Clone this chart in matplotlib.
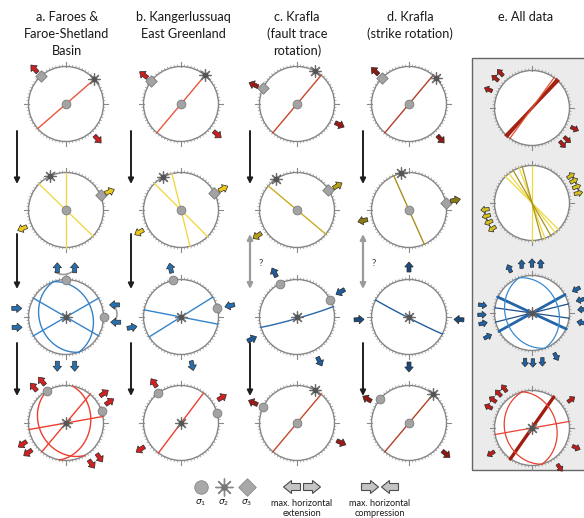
import numpy as np
import matplotlib
matplotlib.use("Agg")
import matplotlib.pyplot as plt
from matplotlib.patches import Circle, Polygon, Rectangle

plt.rcParams['font.family'] = ['Lato', 'DejaVu Sans']
plt.rcParams['mathtext.fontset'] = 'dejavusans'

# ---------------------------------------------------------------- data
titles = [["a. Faroes &", "Faroe-Shetland", "Basin"],
          ["b. Kangerlussuaq", "East Greenland"],
          ["c. Krafla", "(fault trace", "rotation)"],
          ["d. Krafla", "(strike rotation)"],
          ["e. All data"]]

# fault planes per stage: (strike, dip), right-hand rule
planes_a = [[(49, 90)],
            [(0, 90), (314, 90)],
            [(60, 90), (120, 90), (160, 30), (340, 30)],
            [(40, 90), (80, 90), (150, 30), (10, 35)]]
planes_b = [[(40, 90)], [(315, 90), (346, 90)], [(101, 90), (58, 90)], [(37, 90)]]
planes_c = [[(40, 90)], [(310, 90)], [(74, 87)], [(40, 90)]]
planes_d = [[(40, 90)], [(336, 90)], [(117, 88)], [(40, 90)]]
planes_e = [[(41, 90), (44, 90), (36, 90)],
            [(0, 90), (315, 90), (322, 90), (340, 90), (330, 90), (345, 90)],
            [(61, 90), (115, 90), (76, 90), (98, 90), (160, 30), (340, 30)],
            [(35, 90), (80, 90), (165, 28), (345, 35)]]
# 0 = thin plane, 1 = thick / summary plane, 2 = dark thin plane
planes_e_kind = [[1, 1, 0], [0, 0, 0, 0, 2, 2], [1, 1, 2, 2, 0, 0], [1, 0, 0, 0]]

# principal stress axes: (trend, plunge, sigma index)
stress_a = [[(0, 90, 1), (49, 0, 2), (318, 0, 3)],
            [(0, 90, 1), (334, 0, 2), (67, 0, 3)],
            [(0, 90, 2), (90, 0, 1), (0, 0, 1)],
            [(0, 90, 2), (330, 0, 1), (72, 0, 1)]]
stress_b = [[(0, 90, 1), (40, 0, 2), (307, 0, 3)],
            [(0, 90, 1), (331, 0, 2), (63, 0, 3)],
            [(0, 90, 2), (348, 0, 1), (76, 0, 1)],
            [(0, 90, 2), (322, 0, 1), (74, 0, 1)]]
stress_c = [[(0, 90, 1), (29, 0, 2), (296, 0, 3)],
            [(0, 90, 1), (326, 0, 2), (57, 0, 3)],
            [(0, 90, 2), (333, 0, 1), (63, 0, 1)],
            [(0, 90, 1), (29, 0, 2), (296, 0, 1)]]
stress_d = [[(0, 90, 1), (46, 0, 2), (314, 0, 3)],
            [(0, 90, 1), (347, 0, 2), (80, 0, 3)],
            [(0, 90, 2)],
            [(0, 90, 1), (40, 0, 2), (310, 0, 1)]]
stress_e = [[], [], [(0, 90, 2)], [(0, 90, 2)]]

# horizontal strain arrows: (azimuth of position, azimuth the arrow points)
arrows_a = [[(318, 318), (138, 138)],
            [(67, 67), (247, 247)],
            [(350, 0), (10, 0), (190, 180), (170, 180),
             (76, 270), (96, 270), (280, 90), (258, 90)],
            [(318, 320), (330, 320), (52, 55), (64, 55),
             (232, 235), (244, 235), (136, 145), (148, 145)]]
arrows_b = [[(308, 308), (130, 130)],
            [(63, 63), (242, 242)],
            [(348, 348), (77, 257), (258, 78), (167, 167)],
            [(326, 326), (58, 58), (237, 237)]]
arrows_c = [[(294, 294), (116, 116)],
            [(59, 59), (237, 237)],
            [(333, 333), (60, 240), (153, 153), (244, 64)],
            [(295, 295), (114, 114)]]
arrows_d = [[(314, 314), (138, 138)],
            [(78, 78), (257, 257)],
            [(0, 0), (93, 273), (180, 180), (267, 87)],
            [(300, 300), (130, 130)]]
arrows_e = [[(293, 293), (309, 309), (318, 318), (140, 140), (132, 132), (116, 116)],
            [(55, 55), (62, 62), (70, 70), (78, 78), (262, 262), (254, 254), (246, 246), (237, 237)],
            [(333, 335), (348, 0), (0, 0), (10, 0),
             (62, 242), (75, 255), (86, 266), (101, 281),
             (279, 99), (268, 88), (258, 78), (242, 62),
             (188, 180), (179, 180), (168, 180), (151, 151)],
            [(306, 306), (316, 316), (325, 325), (296, 296), (54, 54), (238, 238), (114, 114), (145, 145)]]

legend_sigma = ["$\\sigma_1$", "$\\sigma_2$", "$\\sigma_3$"]
legend_ext = ["max. horizontal", "extension"]
legend_comp = ["max. horizontal", "compression"]

# ---------------------------------------------------------------- layout
W, H = 584, 518
col_x = [66, 181, 297, 409, 532]
row_y = [[104, 210, 317, 423]] * 4 + [[108, 203, 313, 428]]
title_x = [67, 183, 297, 410, 526]
R = 37.5
arrow_dist = [R + 10, R + 10, R + 12.5, R + 11]

line_cols = [['#e9553b', '#f1d84a', '#3583c9', '#ec3f2f'],
             ['#e9553b', '#f1d84a', '#3583c9', '#ec3f2f'],
             ['#c4472a', '#c8ad1e', '#2b67a8', '#c4472a'],
             ['#b43e24', '#a8901e', '#245d99', '#b43e24']]
arrow_cols = [['#cc1f1f', '#ecc81a', '#2670b0', '#d42020'],
              ['#cc1f1f', '#ecc81a', '#2670b0', '#d42020'],
              ['#9a1a14', '#b8a014', '#1e5c9c', '#9a1a14'],
              ['#8a1a12', '#8c7a10', '#1b4a7c', '#8a1a12']]
e_styles = [[('#e25234', 0.9), ('#a32212', 1.8), ('#7a1a10', 0.9)],
            [('#f0d840', 0.9), ('#c8ad1e', 1.6), ('#a89420', 0.9)],
            [('#3a8ad0', 0.9), ('#2465a8', 2.0), ('#1e4f8a', 0.9)],
            [('#e84030', 0.9), ('#a01e10', 2.4), ('#7a1a10', 0.9)]]
e_arrow_cols = ['#b01c14', '#d8c020', '#1e62a8', '#c01c18']

fig = plt.figure(figsize=(W / 100, H / 100), dpi=100)
ax = fig.add_axes([0, 0, 1, 1])
ax.set_xlim(0, W)
ax.set_ylim(H, 0)
ax.set_aspect('equal')
ax.axis('off')


def project(trend, plunge):
    """Lower-hemisphere equal-area projection, unit radius."""
    r = np.sqrt(2) * np.sin(np.radians(90 - plunge) / 2)
    t = np.radians(trend)
    return r * np.sin(t), -r * np.cos(t)


def great_circle(strike, dip, n=181):
    s, d = np.radians(strike), np.radians(dip)
    sv = np.array([np.cos(s), np.sin(s), 0.0])
    dv = np.array([np.cos(s + np.pi / 2) * np.cos(d),
                   np.sin(s + np.pi / 2) * np.cos(d), np.sin(d)])
    t = np.linspace(0, np.pi, n)
    v = np.outer(np.cos(t), sv) + np.outer(np.sin(t), dv)
    plunge = np.degrees(np.arcsin(np.clip(v[:, 2], -1, 1)))
    trend = np.degrees(np.arctan2(v[:, 1], v[:, 0]))
    return project(trend, plunge)


def block_arrow(x, y, az, color, L=10, w=4.0, hw=8.5, hl=5.0, ec='#2a2a2a', lw=0.5, z=6):
    a = np.radians(az)
    ux, uy = np.sin(a), -np.cos(a)
    px, py = -uy, ux
    loc = [(-L / 2, w / 2), (L / 2 - hl, w / 2), (L / 2 - hl, hw / 2), (L / 2, 0),
           (L / 2 - hl, -hw / 2), (L / 2 - hl, -w / 2), (-L / 2, -w / 2)]
    pts = [(x + al * ux + pe * px, y + al * uy + pe * py) for al, pe in loc]
    ax.add_patch(Polygon(pts, closed=True, facecolor=color, edgecolor=ec, lw=lw, zorder=z))


def stereonet(cx, cy, face=None):
    if face:
        ax.add_patch(Circle((cx, cy), R, facecolor=face, edgecolor='none', zorder=1))
    ax.add_patch(Circle((cx, cy), R, fill=False, edgecolor='#858585', lw=1.0, zorder=3))
    for a in range(0, 360, 5):
        t = np.radians(a)
        ln = 4.5 if a % 90 == 0 else 1.8
        ax.plot([cx + R * np.sin(t), cx + (R + ln) * np.sin(t)],
                [cy - R * np.cos(t), cy - (R + ln) * np.cos(t)],
                color='#8a8a8a', lw=0.8 if a % 90 == 0 else 0.45, zorder=3)


def stress_marker(cx, cy, trend, plunge, k):
    ux, uy = project(trend, plunge)
    x, y = cx + R * ux, cy + R * uy
    if k == 1:
        ax.scatter([x], [y], s=40, marker='o', facecolor='#a3a3a3', edgecolor='#7d7d7d', lw=0.6, zorder=5)
    elif k == 2:
        ax.scatter([x], [y], s=70, marker=(8, 2, 0), color='#6e6e6e', lw=0.9, zorder=5)
        ax.scatter([x], [y], s=10, marker='o', color='#555555', zorder=5)
    else:
        ax.scatter([x], [y], s=34, marker='D', facecolor='#a3a3a3', edgecolor='#7d7d7d', lw=0.6, zorder=5)


# grey box for the compilation column
ax.add_patch(Rectangle((472, 58), 120, 412, facecolor='#ebebeb', edgecolor='#666666', lw=1.0, zorder=0))

# titles
for ci, lines in enumerate(titles):
    for li, txt in enumerate(lines):
        ax.text(title_x[ci], 17 + 17 * li, txt, ha='center', va='center', fontsize=9.2, color='#1a1a1a')

all_planes = [planes_a, planes_b, planes_c, planes_d]
all_stress = [stress_a, stress_b, stress_c, stress_d]
all_arrows = [arrows_a, arrows_b, arrows_c, arrows_d]

for ci in range(4):
    for ri in range(4):
        cx, cy = col_x[ci], row_y[ci][ri]
        stereonet(cx, cy)
        for strike, dip in all_planes[ci][ri]:
            gx, gy = great_circle(strike, dip)
            ax.plot(cx + R * gx, cy + R * gy, color=line_cols[ci][ri], lw=1.0, zorder=4)
        for tr, pl, k in all_stress[ci][ri]:
            stress_marker(cx, cy, tr, pl, k)
        for paz, daz in all_arrows[ci][ri]:
            t = np.radians(paz)
            d = arrow_dist[ri]
            block_arrow(cx + d * np.sin(t), cy - d * np.cos(t), daz, arrow_cols[ci][ri])

for ri in range(4):
    cx, cy = col_x[4], row_y[4][ri]
    stereonet(cx, cy, face='white')
    for (strike, dip), kind in zip(planes_e[ri], planes_e_kind[ri]):
        gx, gy = great_circle(strike, dip)
        c, lw = e_styles[ri][kind]
        ax.plot(cx + R * gx, cy + R * gy, color=c, lw=lw, zorder=4)
    for tr, pl, k in stress_e[ri]:
        stress_marker(cx, cy, tr, pl, k)
    for paz, daz in arrows_e[ri]:
        t = np.radians(paz)
        d = arrow_dist[ri]
        block_arrow(cx + d * np.sin(t), cy - d * np.cos(t), daz, e_arrow_cols[ri], L=8.5, w=3.4, hw=7, hl=4)

# grey brackets tying paired arrows in the Faroes stage 3 net
bx = np.linspace(55, 72, 30)
ax.plot(bx, 272 + 2.5 * np.sin(np.linspace(0, np.pi, 30)), color='#9a9a9a', lw=1.2, zorder=4)
by = np.linspace(305, 323, 30)
ax.plot(114 + 3 * np.sin(np.linspace(0, np.pi, 30)), by, color='#9a9a9a', lw=1.2, zorder=4)

# stage-to-stage arrows
arrow_x = [17, 131, 250, 363]
spans = [(131, 184), (234, 289), (343, 396)]
for ci, x in enumerate(arrow_x):
    for si, (y0, y1) in enumerate(spans):
        if si == 1 and ci >= 2:
            ax.annotate('', xy=(x, y1), xytext=(x, y0),
                        arrowprops=dict(arrowstyle='<|-|>', color='#9b9b9b', lw=1.6, mutation_scale=8,
                                        shrinkA=0, shrinkB=0))
            ax.text(x + 11, 263, '?', ha='center', va='center', fontsize=7, color='#333333')
        else:
            ax.annotate('', xy=(x, y1), xytext=(x, y0),
                        arrowprops=dict(arrowstyle='-|>', color='#1e1e1e', lw=1.4, mutation_scale=8,
                                        shrinkA=0, shrinkB=0))

# legend
lx = [201, 224, 247]
ax.scatter([lx[0]], [487], s=95, marker='o', facecolor='#a8a8a8', edgecolor='#8a8a8a', lw=0.6)
ax.scatter([lx[1]], [487], s=150, marker=(8, 2, 0), color='#8a8a8a', lw=1.0)
ax.scatter([lx[1]], [487], s=14, marker='o', color='#777777')
ax.scatter([lx[2]], [487], s=80, marker='D', facecolor='#a8a8a8', edgecolor='#8a8a8a', lw=0.6)
for x, lab in zip(lx, legend_sigma):
    ax.text(x, 503, lab, ha='center', va='center', fontsize=6.5, color='#1a1a1a')

leg_kw = dict(L=17, w=7, hw=13, hl=8, ec='#4a4a4a', lw=0.8)
block_arrow(292, 487, 270, '#c4c4c4', **leg_kw)
block_arrow(312, 487, 90, '#c4c4c4', **leg_kw)
block_arrow(370, 487, 90, '#c4c4c4', **leg_kw)
block_arrow(390, 487, 270, '#c4c4c4', **leg_kw)
for x, lines in ((302, legend_ext), (380, legend_comp)):
    for li, txt in enumerate(lines):
        ax.text(x, 503 + 10.5 * li, txt, ha='center', va='center', fontsize=6.6, color='#1a1a1a')

fig.savefig('out.png', dpi=100)
